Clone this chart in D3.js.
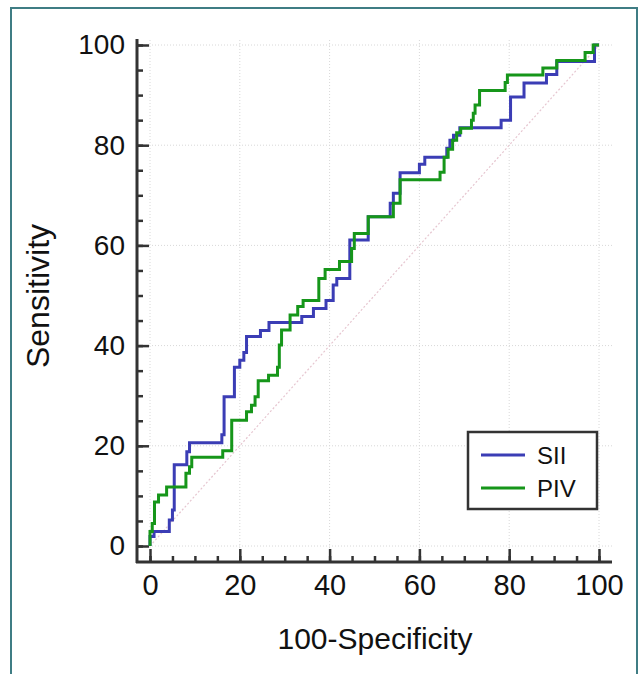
<!DOCTYPE html>
<meta charset="utf-8">
<style>
body { margin: 0; background: #fff; }
text { font-family: "Liberation Sans", Arial, sans-serif; fill: #111; }
.grid line { stroke: #d8d8d8; stroke-width: 1; stroke-dasharray: 1,2; }
.axis .domain { display: none; }
.axis line { stroke: #333; stroke-width: 2.5; }
.roc { fill: none; stroke-width: 3; }
</style>
<body>
<div id="main"></div>
<script src="https://d3js.org/d3.v7.min.js"></script>
<script>
// ROC operating points, 100-Specificity vs Sensitivity
var siiFpr = [0, 0, 0.9, 4.3, 5.0, 5.4, 8.2, 8.8, 16.0, 16.5, 18.8, 20.0, 20.9, 21.5, 24.6, 26.5, 33.8, 36.4, 39.2, 40.8, 41.6, 44.5, 48.6, 53.5, 54.2, 55.7, 60.0, 61.2, 66.1, 66.8, 67.6, 69.0, 78.2, 80.3, 83.3, 88.3, 90.6, 99.0, 100];
var siiSens = [0, 1.9, 2.9, 5.2, 7.2, 16.2, 18.8, 20.6, 22.2, 29.8, 35.7, 37.1, 38.6, 41.8, 43.0, 44.6, 45.8, 47.4, 49.0, 52.1, 53.4, 61.1, 65.7, 68.4, 70.4, 74.5, 76.2, 77.6, 79.4, 81.0, 82.0, 83.5, 85.0, 89.6, 92.4, 94.1, 96.7, 100, 100];

var pivFpr = [0, 0, 0.5, 1.0, 1.9, 3.7, 8.0, 8.8, 9.3, 16.2, 18.2, 21.5, 22.6, 23.4, 24.1, 26.4, 28.4, 28.8, 29.3, 31.2, 32.9, 34.1, 37.6, 39.0, 42.2, 44.9, 45.5, 48.6, 54.2, 55.7, 64.6, 65.5, 66.4, 67.4, 68.3, 69.2, 71.6, 72.0, 72.4, 73.4, 79.1, 79.6, 87.5, 90.6, 96.9, 98.7, 100];
var pivSens = [0, 2.9, 4.5, 8.8, 10.2, 11.8, 14.5, 15.8, 17.7, 19.0, 25.1, 26.8, 28.1, 29.8, 33.0, 34.1, 35.7, 40.1, 43.1, 46.1, 47.8, 49.0, 53.4, 55.2, 56.8, 59.4, 62.4, 65.7, 68.4, 73.1, 74.6, 77.6, 79.2, 81.0, 82.5, 83.4, 85.0, 86.4, 88.0, 90.9, 92.5, 94.0, 95.4, 96.9, 98.5, 100, 100];

var seriesNames = ["SII", "PIV"];
var seriesColors = ["#3b3db5", "#16961a"];
var majorTicks = [0, 20, 40, 60, 80, 100];
var minorTicks = d3.range(0, 101, 5);

var svg = d3.select("#main").append("svg")
	.attr("width", 640)
	.attr("height", 674);

// outer frame
svg.append("rect").attr("x", 11).attr("y", 8).attr("width", 626).attr("height", 680)
	.attr("fill", "none").attr("stroke", "#3f7d84").attr("stroke-width", 2);

var x = d3.scaleLinear().domain([0, 100]).range([150, 599]);
var y = d3.scaleLinear().domain([0, 100]).range([546, 45]);

// dotted grid
var grid = svg.append("g").attr("class", "grid");
grid.selectAll(".gy").data(majorTicks).enter().append("line")
	.attr("x1", 137).attr("x2", 612)
	.attr("y1", function(d) { return y(d); }).attr("y2", function(d) { return y(d); });
grid.selectAll(".gx").data(majorTicks).enter().append("line")
	.attr("y1", 40).attr("y2", 562)
	.attr("x1", function(d) { return x(d); }).attr("x2", function(d) { return x(d); });

// reference diagonal
svg.append("line")
	.attr("x1", x(0)).attr("y1", y(0)).attr("x2", x(100)).attr("y2", y(100))
	.attr("stroke", "#e6c6d0").attr("stroke-width", 1.2).attr("stroke-dasharray", "2,2");

// axes, ticks pointing inward
var yAxis = svg.append("g").attr("class", "axis").attr("transform", "translate(137,0)");
yAxis.call(d3.axisLeft(y).tickValues(minorTicks).tickSize(-6).tickFormat(""));
var yMajor = svg.append("g").attr("class", "axis").attr("transform", "translate(137,0)")
	.call(d3.axisLeft(y).tickValues(majorTicks).tickSize(-12).tickPadding(12));
yMajor.selectAll("text").style("font-size", "28px").attr("fill", "#111");

var xAxis = svg.append("g").attr("class", "axis").attr("transform", "translate(0,562)");
xAxis.call(d3.axisBottom(x).tickValues(minorTicks).tickSize(-6).tickFormat(""));
var xMajor = svg.append("g").attr("class", "axis").attr("transform", "translate(0,562)")
	.call(d3.axisBottom(x).tickValues(majorTicks).tickSize(-13).tickPadding(12));
xMajor.selectAll("text").style("font-size", "29px").attr("fill", "#111");

svg.append("line").attr("x1", 137).attr("x2", 137).attr("y1", 39).attr("y2", 563)
	.attr("stroke", "#333").attr("stroke-width", 3);
svg.append("line").attr("x1", 136).attr("x2", 612).attr("y1", 562).attr("y2", 562)
	.attr("stroke", "#333").attr("stroke-width", 3);

// axis titles
svg.append("text").attr("x", 375).attr("y", 649)
	.attr("text-anchor", "middle").style("font-size", "30px").text("100-Specificity");
svg.append("text").attr("transform", "translate(49,296) rotate(-90)")
	.attr("text-anchor", "middle").style("font-size", "32px").text("Sensitivity");

// ROC step curves
var line = d3.line()
	.x(function(d) { return x(d[0]); })
	.y(function(d) { return y(d[1]); })
	.curve(d3.curveStepAfter);

var siiData = d3.zip(siiFpr, siiSens);
var pivData = d3.zip(pivFpr, pivSens);

svg.append("path").datum(siiData).attr("class", "roc")
	.attr("stroke", seriesColors[0]).attr("d", line);
svg.append("path").datum(pivData).attr("class", "roc")
	.attr("stroke", seriesColors[1]).attr("d", line);

// legend
var legend = svg.append("g");
legend.append("rect").attr("x", 468).attr("y", 432).attr("width", 129).attr("height", 77)
	.attr("fill", "#fff").attr("stroke", "#333").attr("stroke-width", 2.5);
seriesNames.forEach(function(name, i) {
	var ly = 455 + i * 33;
	legend.append("line").attr("x1", 481).attr("x2", 525).attr("y1", ly).attr("y2", ly)
		.attr("stroke", seriesColors[i]).attr("stroke-width", 3);
	legend.append("text").attr("x", 537).attr("y", ly + 9)
		.style("font-size", "24px").text(name);
});
</script>
</body>
